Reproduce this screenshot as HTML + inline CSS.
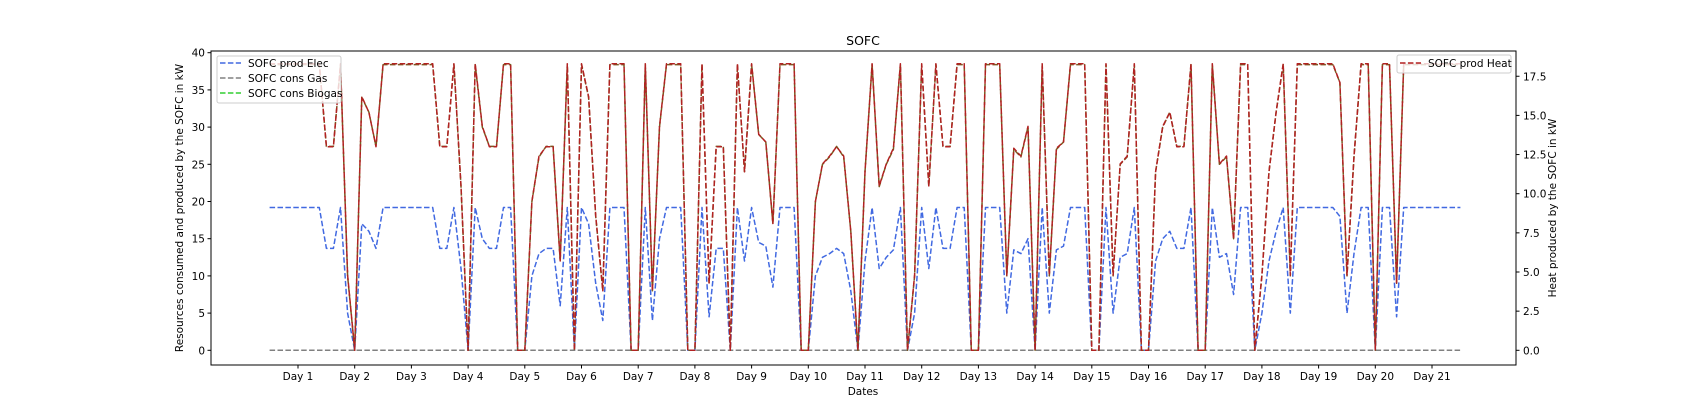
<!DOCTYPE html>
<html><head><meta charset="utf-8"><style>
html,body{margin:0;padding:0;background:#fff;}
svg{display:block;font-family:"DejaVu Sans","Liberation Sans",sans-serif;}
</style></head><body>
<svg id="chart" width="1684" height="417" viewBox="0 0 1684 417">
<text x="863" y="45" text-anchor="middle" font-size="12.5" fill="#000">SOFC</text>
<text x="863" y="395" text-anchor="middle" font-size="10.5" fill="#000">Dates</text>
<text transform="translate(183,208) rotate(-90)" text-anchor="middle" font-size="10.5" fill="#000">Resources consumed and produced by the SOFC in kW</text>
<text transform="translate(1556,208) rotate(-90)" text-anchor="middle" font-size="10.5" fill="#000">Heat produced by the SOFC in kW</text>
<g id="ticks"></g>
<g id="series"></g>
<rect x="211" y="51" width="1305" height="314" fill="none" stroke="#000" stroke-width="1"/>
<g>
<rect x="217" y="56" width="124" height="47" rx="2" fill="#fff" fill-opacity="0.8" stroke="#ccc"/>
<g><line x1="220" y1="63" x2="241" y2="63" stroke="#4169e1" stroke-width="1.5" stroke-dasharray="5.5,2.4"/><text x="248" y="67" font-size="10.5">SOFC prod Elec</text></g>
<g><line x1="220" y1="78" x2="241" y2="78" stroke="#808080" stroke-width="1.5" stroke-dasharray="5.5,2.4"/><text x="248" y="82" font-size="10.5">SOFC cons Gas</text></g>
<g><line x1="220" y1="93" x2="241" y2="93" stroke="#32cd32" stroke-width="1.5" stroke-dasharray="5.5,2.4"/><text x="248" y="97" font-size="10.5">SOFC cons Biogas</text></g>
</g>
<g>
<rect x="1397" y="55" width="114" height="18" rx="2" fill="#fff" fill-opacity="0.8" stroke="#ccc"/>
<g><line x1="1400" y1="63" x2="1421" y2="63" stroke="#b22222" stroke-width="1.5" stroke-dasharray="5.5,2.4"/><text x="1428" y="67" font-size="10.5">SOFC prod Heat</text></g>
</g>
</svg>
<script>
const dayLabels=["Day 1","Day 2","Day 3","Day 4","Day 5","Day 6","Day 7","Day 8","Day 9","Day 10","Day 11","Day 12","Day 13","Day 14","Day 15","Day 16","Day 17","Day 18","Day 19","Day 20","Day 21"];
const leftTicks=[0,5,10,15,20,25,30,35,40];
const rightTicks=["0.0","2.5","5.0","7.5","10.0","12.5","15.0","17.5"];
const startDay=0.5;
const stepDay=0.125;
const elec=[
19.2,19.2,19.2,19.2,19.2,19.2,19.2,19.2,
13.7,13.7,19.2,5,0,17,16,13.7,
19.2,19.2,19.2,19.2,19.2,19.2,19.2,19.2,
13.7,13.7,19.2,11,0,19.2,15,13.7,
13.7,19.2,19.2,0,0,10,13,13.7,
13.7,6,19.2,0,19.2,17,9,4,
19.2,19.2,19.2,0,0,19.2,4,15,
19.2,19.2,19.2,0,0,19.2,4.5,13.7,
13.7,0,19.2,12,19.2,14.5,14,8.5,
19.2,19.2,19.2,0,0,10,12.5,13,
13.7,13,8,0,12,19.2,11,12.5,
13.5,19.2,0,5,19.2,11,19.2,13.7,
13.7,19.2,19.2,0,0,19.2,19.2,19.2,
5,13.5,13,15,0,19.2,5,13.5,
14,19.2,19.2,19.2,0,0,19.2,5,
12.5,13,19.2,0,0,12,15,16,
13.7,13.7,19.2,0,0,19.2,12.5,13,
7.5,19.2,19.2,0,5,12,16,19.2,
5,19.2,19.2,19.2,19.2,19.2,19.2,18,
5,13,19.2,19.2,0,19.2,19.2,4.5,
19.2,19.2,19.2,19.2,19.2,19.2,19.2,19.2,19.2];
const gas=[0,0];
const gasDays=[0.5,21.5];
const biogas=[
38.4,38.4,38.4,38.4,38.4,38.4,38.4,38.4,
27.4,27.4,38.4,10,0,34,32,27.4,
38.4,38.4,38.4,38.4,38.4,38.4,38.4,38.4,
27.4,27.4,38.4,22,0,38.4,30,27.4,
27.4,38.4,38.4,0,0,20,26,27.4,
27.4,12,38.4,0,38.4,34,18,8,
38.4,38.4,38.4,0,0,38.4,8,30,
38.4,38.4,38.4,0,0,38.4,9,27.4,
27.4,0,38.4,24,38.4,29,28,17,
38.4,38.4,38.4,0,0,20,25,26,
27.4,26,16,0,24,38.4,22,25,
27,38.4,0,10,38.4,22,38.4,27.4,
27.4,38.4,38.4,0,0,38.4,38.4,38.4,
10,27,26,30,0,38.4,10,27,
28,38.4,38.4,38.4,0,0,38.4,10,
25,26,38.4,0,0,24,30,32,
27.4,27.4,38.4,0,0,38.4,25,26,
15,38.4,38.4,0,10,24,32,38.4,
10,38.4,38.4,38.4,38.4,38.4,38.4,36,
10,26,38.4,38.4,0,38.4,38.4,9,
38.4,38.4,38.4,38.4,38.4,38.4,38.4,38.4,38.4];
const heat=[
18.3,18.3,18.3,18.3,18.3,18.3,18.3,18.3,
13.0,13.0,18.3,4.8,0,16.2,15.2,13.0,
18.3,18.3,18.3,18.3,18.3,18.3,18.3,18.3,
13.0,13.0,18.3,10.5,0,18.3,14.3,13.0,
13.0,18.3,18.3,0,0,9.5,12.4,13.0,
13.0,5.7,18.3,0,18.3,16.2,8.6,3.8,
18.3,18.3,18.3,0,0,18.3,3.8,14.3,
18.3,18.3,18.3,0,0,18.3,4.3,13.0,
13.0,0,18.3,11.4,18.3,13.8,13.3,8.1,
18.3,18.3,18.3,0,0,9.5,11.9,12.4,
13.0,12.4,7.6,0,11.4,18.3,10.5,11.9,
12.9,18.3,0,4.8,18.3,10.5,18.3,13.0,
13.0,18.3,18.3,0,0,18.3,18.3,18.3,
4.8,12.9,12.4,14.3,0,18.3,4.8,12.9,
13.3,18.3,18.3,18.3,0,0,18.3,4.8,
11.9,12.4,18.3,0,0,11.4,14.3,15.2,
13.0,13.0,18.3,0,0,18.3,11.9,12.4,
7.1,18.3,18.3,0,4.8,11.4,15.2,18.3,
4.8,18.3,18.3,18.3,18.3,18.3,18.3,17.1,
4.8,12.4,18.3,18.3,0,18.3,18.3,4.3,
18.3,18.3,18.3,18.3,18.3,18.3,18.3,18.3,18.3];

const NS="http://www.w3.org/2000/svg";
const X0=298, DX=56.7;
function xs(day){return X0+(day-1)*DX;}
function yl(v){return 350.3-v*7.44;}
function yr(v){return 350.3-v*15.66;}
const ticksG=document.getElementById('ticks');
const seriesG=document.getElementById('series');
function mk(tag,attrs,parent){const e=document.createElementNS(NS,tag);for(const k in attrs)e.setAttribute(k,attrs[k]);parent.appendChild(e);return e;}
dayLabels.forEach((lab,i)=>{
  const x=xs(i+1);
  const t=mk('line',{x1:x,x2:x,y1:365,y2:368.5,stroke:'#000'},ticksG);
  
  
  const tx=mk('text',{x:x,y:380,'text-anchor':'middle','font-size':'10.5'},ticksG);
  tx.textContent=lab;
  
  
});
leftTicks.forEach(v=>{
  const y=yl(v);
  const t=mk('line',{x1:207.5,x2:211,y1:y,y2:y,stroke:'#000'},ticksG);
  
  
  const tx=mk('text',{x:205,y:y+4,'text-anchor':'end','font-size':'10.5'},ticksG);
  tx.textContent=String(v);
  
  
});
rightTicks.forEach(s=>{
  const y=yr(parseFloat(s));
  const t=mk('line',{x1:1516,x2:1519.5,y1:y,y2:y,stroke:'#000'},ticksG);
  
  
  const tx=mk('text',{x:1523,y:y+4,'text-anchor':'start','font-size':'10.5'},ticksG);
  tx.textContent=s;
  
  
});
function line(vals,days,yfn,color,name){
  const pts=vals.map((v,i)=>xs(days?days[i]:startDay+i*stepDay).toFixed(1)+','+yfn(v).toFixed(1)).join(' ');
  const p=mk('polyline',{points:pts,fill:'none',stroke:color,'stroke-width':1.5,'stroke-dasharray':'5.5,2.4','stroke-linejoin':'round'},seriesG);
  
  
}
line(elec,null,yl,'#4169e1','series-elec');
line(gas,gasDays,yl,'#808080','series-gas');
line(biogas,null,yl,'#7a5a20','series-biogas');
line(heat,null,yr,'#b22222','series-heat');
</script>
</body></html>
